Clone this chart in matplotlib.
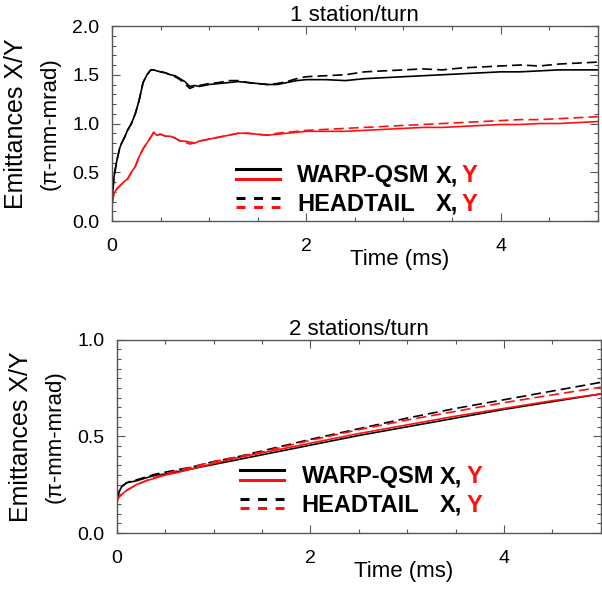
import matplotlib
matplotlib.use("Agg")
import matplotlib.pyplot as plt
from matplotlib.lines import Line2D
from matplotlib.legend_handler import HandlerBase
from matplotlib.ticker import MultipleLocator, FormatStrFormatter

plt.rcParams['font.family'] = ['Liberation Sans', 'DejaVu Sans']

# ---- top panel: 1 station/turn ----
t1 = [0, 0.02, 0.05, 0.08, 0.1, 0.13, 0.16, 0.2, 0.24, 0.28, 0.32, 0.36, 0.4, 0.43,
      0.46, 0.5, 0.55, 0.6, 0.65, 0.7, 0.75, 0.8, 0.85, 0.9, 1.0, 1.1, 1.2, 1.3, 1.4,
      1.5, 1.6, 1.7, 1.8, 1.9, 2.0, 2.2, 2.4, 2.6, 2.8, 3.0, 3.2, 3.4, 3.6, 3.8, 4.0,
      4.2, 4.4, 4.6, 4.8, 5.0]
warp_x1 = [0.18, 0.45, 0.62, 0.75, 0.80, 0.86, 0.93, 1.00, 1.10, 1.24, 1.42, 1.50, 1.55, 1.55,
           1.54, 1.53, 1.52, 1.50, 1.49, 1.46, 1.43, 1.38, 1.39, 1.38, 1.40, 1.41, 1.42, 1.43, 1.42,
           1.41, 1.40, 1.40, 1.42, 1.44, 1.45, 1.45, 1.44, 1.46, 1.47, 1.48, 1.49, 1.50, 1.51, 1.52, 1.53,
           1.53, 1.54, 1.55, 1.55, 1.55]
head_x1 = [0.18, 0.45, 0.62, 0.75, 0.80, 0.86, 0.93, 1.00, 1.10, 1.24, 1.42, 1.50, 1.55, 1.55,
           1.54, 1.53, 1.52, 1.50, 1.48, 1.45, 1.41, 1.36, 1.38, 1.39, 1.41, 1.42, 1.44, 1.44, 1.42,
           1.41, 1.40, 1.41, 1.43, 1.46, 1.48, 1.49, 1.50, 1.53, 1.54, 1.55, 1.56, 1.55, 1.57, 1.58, 1.59,
           1.60, 1.59, 1.61, 1.62, 1.63]
warp_y1 = [0.17, 0.28, 0.33, 0.36, 0.38, 0.41, 0.43, 0.50, 0.56, 0.66, 0.74, 0.80, 0.86, 0.91,
           0.88, 0.89, 0.87, 0.87, 0.85, 0.82, 0.82, 0.81, 0.80, 0.82, 0.84, 0.86, 0.88, 0.90, 0.90,
           0.89, 0.88, 0.89, 0.90, 0.91, 0.92, 0.92, 0.92, 0.93, 0.94, 0.95, 0.96, 0.96, 0.97, 0.98, 0.99,
           0.99, 1.00, 1.00, 1.01, 1.02]
head_y1 = [0.17, 0.28, 0.33, 0.36, 0.38, 0.41, 0.43, 0.50, 0.56, 0.66, 0.74, 0.80, 0.86, 0.91,
           0.88, 0.89, 0.87, 0.87, 0.85, 0.82, 0.81, 0.79, 0.80, 0.82, 0.84, 0.86, 0.88, 0.90, 0.90,
           0.89, 0.88, 0.90, 0.91, 0.92, 0.93, 0.94, 0.95, 0.96, 0.97, 0.98, 0.99, 1.00, 1.01, 1.02, 1.03,
           1.04, 1.04, 1.05, 1.06, 1.07]

# ---- bottom panel: 2 stations/turn ----
t2 = [0, 0.02, 0.05, 0.1, 0.15, 0.2, 0.3, 0.4, 0.5, 0.6, 0.8, 1.0, 1.25, 1.5, 1.75, 2.0,
      2.5, 3.0, 3.5, 4.0, 4.5, 5.0]
warp_x2 = [0.17, 0.21, 0.24, 0.26, 0.265, 0.27, 0.285, 0.30, 0.305, 0.315, 0.335, 0.355, 0.38,
           0.405, 0.43, 0.455, 0.505, 0.55, 0.595, 0.64, 0.68, 0.72]
warp_y2 = [0.16, 0.185, 0.20, 0.22, 0.235, 0.25, 0.27, 0.285, 0.30, 0.31, 0.335, 0.36, 0.39,
           0.415, 0.44, 0.465, 0.515, 0.56, 0.605, 0.645, 0.685, 0.72]
head_x2 = [0.17, 0.21, 0.24, 0.26, 0.27, 0.275, 0.29, 0.305, 0.315, 0.325, 0.345, 0.37, 0.395,
           0.425, 0.455, 0.485, 0.54, 0.595, 0.645, 0.69, 0.735, 0.78]
head_y2 = [0.16, 0.185, 0.20, 0.22, 0.235, 0.25, 0.27, 0.29, 0.305, 0.32, 0.345, 0.37, 0.395,
           0.42, 0.45, 0.48, 0.535, 0.585, 0.63, 0.675, 0.715, 0.755]

titles = ['1 station/turn', '2 stations/turn']
ylims = [2.0, 1.0]
yminor = [0.1, 0.05]
codes = ['WARP-QSM', 'HEADTAIL']
RED = '#ff1010'
DASH = (0, (6, 3))
LEG_LW = 2.2


class TwoLineHandler(HandlerBase):
    # legend key: black line above the red one
    def create_artists(self, legend, orig_handle, xdescent, ydescent,
                       width, height, fontsize, trans):
        yc = height / 2 - ydescent
        arts = []
        for h, dy in zip(orig_handle, (3.4, -3.4)):
            ln = Line2D([-xdescent, width - xdescent], [yc + dy, yc + dy],
                        color=h.get_color(), lw=LEG_LW)
            if h.get_linestyle() != '-':
                ln.set_dashes((2.95, 2.8))   # scaled by lw
            ln.set_transform(trans)
            arts.append(ln)
        return arts


fig = plt.figure(figsize=(6.02, 5.91), dpi=100)
ax1 = fig.add_axes([0.186, 0.626, 0.807, 0.330])
ax2 = fig.add_axes([0.194, 0.098, 0.804, 0.327])

panels = [(ax1, t1, warp_x1, warp_y1, head_x1, head_y1),
          (ax2, t2, warp_x2, warp_y2, head_x2, head_y2)]
legends = []
for i, (ax, t, wx, wy, hx, hy) in enumerate(panels):
    a, = ax.plot(t, wx, color='black', lw=1.2)
    b, = ax.plot(t, wy, color=RED, lw=1.2)
    c, = ax.plot(t, hx, color='black', lw=1.2, linestyle=DASH)
    d, = ax.plot(t, hy, color=RED, lw=1.2, linestyle=DASH)

    ax.set_xlim(0, 5)
    ax.set_ylim(0, ylims[i])
    ax.xaxis.set_major_locator(MultipleLocator(2))
    ax.xaxis.set_minor_locator(MultipleLocator(0.5))
    ax.yaxis.set_major_locator(MultipleLocator(0.5))
    ax.yaxis.set_minor_locator(MultipleLocator(yminor[i]))
    ax.yaxis.set_major_formatter(FormatStrFormatter('%.1f'))
    ax.tick_params(which='both', direction='in', top=True, right=True,
                   color='#555555', labelsize=14, width=0.8)
    ax.tick_params(which='major', length=6, pad=9)
    ax.tick_params(which='minor', length=3)
    ax.tick_params(axis='x', which='major', pad=12)
    for sp in ax.spines.values():
        sp.set_color('#555555')
        sp.set_linewidth(1.0)

    ax.set_title(titles[i], fontsize=16, pad=3)
    ax.set_xlabel('Time (ms)', fontsize=16)
    ax.xaxis.set_label_coords(0.593, -0.145)
    ax.text(-0.197, 0.5, 'Emittances X/Y', transform=ax.transAxes, rotation=90,
            ha='center', va='center', fontsize=18)
    ax.text(-0.128, 0.5, '(\u03c0-mm-mrad)', transform=ax.transAxes, rotation=90,
            ha='center', va='center', fontsize=16)

    leg = ax.legend([(a, b), (c, d)], codes, handler_map={tuple: TwoLineHandler()},
                    loc='upper left', bbox_to_anchor=(0.255, 0.29 if i == 0 else 0.35),
                    frameon=False, borderpad=0, borderaxespad=0,
                    handlelength=1.85, handletextpad=0.75, labelspacing=0.22,
                    prop={'weight': 'bold', 'size': 17})
    legends.append(leg)

# "X," column aligned after the longer name, then a red "Y"
for ax, leg in zip([ax1, ax2], legends):
    tx = leg.get_texts()
    for row in tx:
        xa = ax.annotate('X,', xy=(1, 0), xycoords=(tx[0], row), xytext=(4, 0),
                         textcoords='offset points', ha='left', va='bottom',
                         fontsize=17, fontweight='bold', zorder=10)
        ax.annotate('Y', xy=(1, 0), xycoords=xa, xytext=(3, 0),
                    textcoords='offset points', ha='left', va='bottom',
                    fontsize=17, fontweight='bold', color=RED, zorder=11)

fig.savefig('out.png', dpi=100)
